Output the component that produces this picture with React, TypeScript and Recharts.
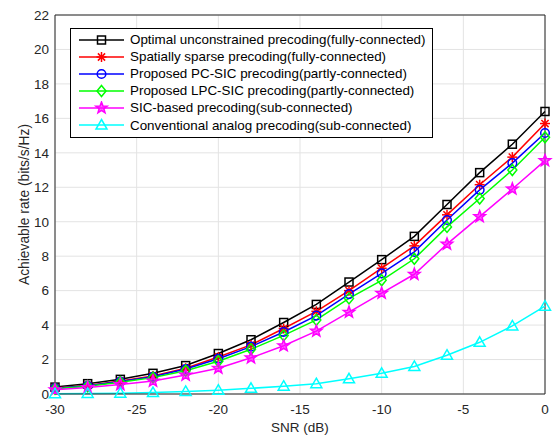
import React from 'react';
import {
  LineChart,
  Line,
  XAxis,
  YAxis,
  CartesianGrid,
  Legend,
  ReferenceLine,
} from 'recharts';

// SNR points (dB)
const snr = [-30, -28, -26, -24, -22, -20, -18, -16, -14, -12, -10, -8, -6, -4, -2, 0];

// Achievable rate per scheme (bits/s/Hz)
const optimalFull = [0.4, 0.6, 0.85, 1.2, 1.65, 2.35, 3.15, 4.15, 5.2, 6.5, 7.8, 9.15, 11.0, 12.85, 14.5, 16.4];
const sparseFull = [0.35, 0.5, 0.75, 1.05, 1.5, 2.15, 2.85, 3.8, 4.8, 6.0, 7.3, 8.6, 10.4, 12.15, 13.75, 15.7];
const pcSicPartly = [0.33, 0.48, 0.72, 1.0, 1.45, 2.05, 2.75, 3.6, 4.55, 5.8, 7.0, 8.25, 10.1, 11.85, 13.4, 15.15];
const lpcSicPartly = [0.3, 0.45, 0.68, 0.95, 1.35, 1.9, 2.6, 3.4, 4.3, 5.55, 6.6, 7.85, 9.7, 11.35, 13.0, 14.9];
const sicSub = [0.25, 0.38, 0.55, 0.75, 1.1, 1.5, 2.1, 2.8, 3.65, 4.75, 5.85, 6.95, 8.7, 10.3, 11.9, 13.55];
const analogSub = [0.02, 0.03, 0.05, 0.08, 0.15, 0.22, 0.33, 0.45, 0.6, 0.88, 1.2, 1.6, 2.25, 3.0, 3.95, 5.1];

const xTicks = [-30, -25, -20, -15, -10, -5, 0];
const yTicks = [0, 2, 4, 6, 8, 10, 12, 14, 16, 18, 20, 22];

type MarkerKind = 'square' | 'asterisk' | 'circle' | 'diamond' | 'star' | 'triangle';

const SERIES: { key: string; name: string; color: string; marker: MarkerKind; values: number[] }[] = [
  { key: 'opt', name: 'Optimal unconstrained precoding(fully-connected)', color: '#000000', marker: 'square', values: optimalFull },
  { key: 'sparse', name: 'Spatially sparse precoding(fully-connected)', color: '#ff0000', marker: 'asterisk', values: sparseFull },
  { key: 'pc', name: 'Proposed PC-SIC precoding(partly-connected)', color: '#0000ff', marker: 'circle', values: pcSicPartly },
  { key: 'lpc', name: 'Proposed LPC-SIC precoding(partly-connected)', color: '#00ff00', marker: 'diamond', values: lpcSicPartly },
  { key: 'sic', name: 'SIC-based precoding(sub-connected)', color: '#ff00ff', marker: 'star', values: sicSub },
  { key: 'analog', name: 'Conventional analog precoding(sub-connected)', color: '#00ffff', marker: 'triangle', values: analogSub },
];

const data = snr.map((x, i) => {
  const row: Record<string, number> = { snr: x };
  SERIES.forEach((s) => { row[s.key] = s.values[i]; });
  return row;
});

const FONT = '"Liberation Sans", Arial, Helvetica, sans-serif';
const AXIS_COLOR = '#262626';

// MATLAB-style marker glyphs
function Marker({ kind, cx, cy, color }: { kind: MarkerKind; cx: number; cy: number; color: string }) {
  const sw = 1.5;
  switch (kind) {
    case 'square':
      return <rect x={cx - 4} y={cy - 4} width={8} height={8} fill="none" stroke={color} strokeWidth={sw} />;
    case 'circle':
      return <circle cx={cx} cy={cy} r={4.3} fill="none" stroke={color} strokeWidth={sw} />;
    case 'diamond':
      return (
        <polygon
          points={`${cx},${cy - 5.5} ${cx + 4.5},${cy} ${cx},${cy + 5.5} ${cx - 4.5},${cy}`}
          fill="none" stroke={color} strokeWidth={sw}
        />
      );
    case 'triangle':
      return (
        <polygon
          points={`${cx},${cy - 5.5} ${cx + 5.5},${cy + 4} ${cx - 5.5},${cy + 4}`}
          fill="none" stroke={color} strokeWidth={sw}
        />
      );
    case 'asterisk': {
      const r = 5;
      const d = r * 0.72;
      return (
        <g stroke={color} strokeWidth={sw}>
          <line x1={cx} y1={cy - r} x2={cx} y2={cy + r} />
          <line x1={cx - r} y1={cy} x2={cx + r} y2={cy} />
          <line x1={cx - d} y1={cy - d} x2={cx + d} y2={cy + d} />
          <line x1={cx - d} y1={cy + d} x2={cx + d} y2={cy - d} />
        </g>
      );
    }
    case 'star': {
      const pts: string[] = [];
      for (let k = 0; k < 10; k++) {
        const r = k % 2 === 0 ? 6 : 2.5;
        const a = -Math.PI / 2 + (k * Math.PI) / 5;
        pts.push(`${cx + r * Math.cos(a)},${cy + r * Math.sin(a)}`);
      }
      return <polygon points={pts.join(' ')} fill={color} fillOpacity={0.6} stroke={color} strokeWidth={sw} />;
    }
  }
  return null;
}

function LegendBox() {
  return (
    <div
      style={{
        border: '1px solid #000',
        background: '#fff',
        padding: '2px 6px 3px 7px',
        fontFamily: FONT,
        fontSize: 13.4,
        color: '#000',
      }}
    >
      {SERIES.map((s) => (
        <div key={s.key} style={{ display: 'flex', alignItems: 'center', height: 17.1 }}>
          <svg width={50} height={14} style={{ marginRight: 2 }}>
            <line x1={1} y1={7} x2={46} y2={7} stroke={s.color} strokeWidth={1.5} />
            <Marker kind={s.marker} cx={23.5} cy={7} color={s.color} />
          </svg>
          <span style={{ whiteSpace: 'nowrap' }}>{s.name}</span>
        </div>
      ))}
    </div>
  );
}

export default function App() {
  return (
    <div style={{ width: 553, height: 436, background: '#fff', position: 'relative' }}>
      <style>{'body{margin:0;}'}</style>
      <LineChart
        width={553}
        height={436}
        data={data}
        margin={{ top: 15, right: 8, bottom: 0, left: 0 }}
      >
        <CartesianGrid stroke="#e3e3e3" strokeWidth={1} />
        <XAxis
          dataKey="snr"
          type="number"
          domain={[-30, 0]}
          ticks={xTicks}
          height={42}
          stroke={AXIS_COLOR}
          tickLine={false}
          tick={{ fill: AXIS_COLOR, fontSize: 13.5, fontFamily: FONT }}
          tickMargin={4}
          label={{ value: 'SNR (dB)', position: 'insideBottom', offset: 4, fill: AXIS_COLOR, fontSize: 13.5, fontFamily: FONT }}
        />
        <YAxis
          type="number"
          domain={[0, 22]}
          ticks={yTicks}
          width={55}
          stroke={AXIS_COLOR}
          tickLine={false}
          tick={{ fill: AXIS_COLOR, fontSize: 13.5, fontFamily: FONT }}
          tickMargin={0}
          label={{ value: 'Achievable rate (bits/s/Hz)', angle: -90, position: 'insideLeft', offset: 24, style: { textAnchor: 'middle' }, fill: AXIS_COLOR, fontSize: 13.8, fontFamily: FONT }}
        />
        <ReferenceLine y={22} stroke={AXIS_COLOR} strokeWidth={1} ifOverflow="visible" />
        <ReferenceLine x={0} stroke={AXIS_COLOR} strokeWidth={1} ifOverflow="visible" />
        {SERIES.map((s) => (
          <Line
            key={s.key}
            dataKey={s.key}
            name={s.name}
            stroke={s.color}
            strokeWidth={1.5}
            isAnimationActive={false}
            dot={(p: any) => <Marker key={`${s.key}-${p.index}`} kind={s.marker} cx={p.cx} cy={p.cy} color={s.color} />}
            activeDot={false}
          />
        ))}
        <Legend
          layout="vertical"
          align="center"
          verticalAlign="middle"
          content={() => <LegendBox />}
          wrapperStyle={{ left: 70, top: 28, width: 'auto', height: 'auto' }}
        />
      </LineChart>
    </div>
  );
}
